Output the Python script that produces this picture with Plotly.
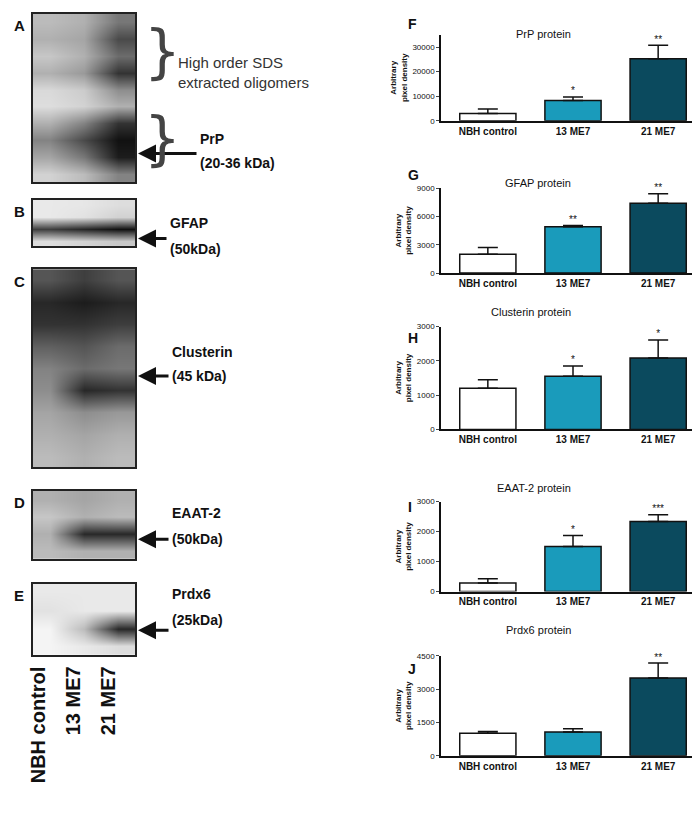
import plotly.graph_objects as go

W, H = 700, 825

groups = ["NBH control", "13 ME7", "21 ME7"]
bar_colors = ["#ffffff", "#1a9bbb", "#0b4a5e"]

# bar panels: means, upper SEM, significance stars
prp_mean = [3000, 8300, 25200]
prp_err = [1800, 1400, 5500]
prp_stars = ["", "*", "**"]
gfap_mean = [2000, 4900, 7400]
gfap_err = [700, 150, 1000]
gfap_stars = ["", "**", "**"]
clu_mean = [1200, 1550, 2080]
clu_err = [250, 300, 530]
clu_stars = ["", "*", "*"]
eaat_mean = [290, 1500, 2340]
eaat_err = [140, 370, 220]
eaat_stars = ["", "*", "***"]
prdx_mean = [1020, 1070, 3500]
prdx_err = [80, 150, 680]
prdx_stars = ["", "", "**"]

# blot band intensities (rows top->bottom, lanes NBH / 13 / 21)
blot_a = [[0.25, 0.3, 0.55], [0.3, 0.35, 0.75], [0.2, 0.3, 0.6], [0.3, 0.4, 0.85],
          [0.12, 0.18, 0.45], [0.1, 0.15, 0.3], [0.3, 0.5, 0.85], [0.5, 0.75, 1.0],
          [0.35, 0.55, 0.95], [0.15, 0.25, 0.5]]
blot_b = [[0.05, 0.06, 0.1], [0.05, 0.08, 0.15], [0.8, 0.9, 1.0], [0.1, 0.15, 0.2]]
blot_c = [[0.7, 0.8, 0.7], [0.9, 0.95, 0.9], [0.85, 0.85, 0.8], [0.65, 0.7, 0.6],
          [0.5, 0.6, 0.55], [0.45, 0.9, 0.85], [0.35, 0.45, 0.4], [0.3, 0.35, 0.3],
          [0.25, 0.3, 0.25]]
blot_d = [[0.3, 0.35, 0.3], [0.2, 0.3, 0.25], [0.3, 0.9, 0.9], [0.25, 0.3, 0.3]]
blot_e = [[0.05, 0.05, 0.05], [0.08, 0.05, 0.05], [0.0, 0.25, 0.9], [0.0, 0.05, 0.1]]

fig = go.Figure()


def px_x(x):
    return x / W


def px_y(y):
    return 1 - y / H


blots = [  # data, top, bottom, letter
    (blot_a, 2, 172, "A"),
    (blot_b, 190, 237, "B"),
    (blot_c, 260, 460, "C"),
    (blot_d, 484, 553, "D"),
    (blot_e, 578, 650, "E"),
]
n = 1
for z, top, bot, letter in blots:
    xa, ya = "x%d" % n, "y%d" % n
    fig.add_trace(go.Heatmap(z=z[::-1], x=[0, 1, 2], y=list(range(len(z))),
                             colorscale=[[0, "#f4f4f4"], [1, "#111111"]], zmin=0, zmax=1,
                             zsmooth="best", showscale=False, xaxis=xa, yaxis=ya))
    ax = dict(domain=[px_x(25), px_x(127)], showticklabels=False, ticks="", showgrid=False,
              zeroline=False, showline=True, mirror=True, linecolor="#222", linewidth=2,
              range=[-0.5, 2.5], anchor=ya)
    ay = dict(domain=[px_y(bot), px_y(top)], showticklabels=False, ticks="", showgrid=False,
              zeroline=False, showline=True, mirror=True, linecolor="#222", linewidth=2,
              range=[-0.5, len(z) - 0.5], anchor=xa)
    fig.update_layout(**{"xaxis%d" % n: ax, "yaxis%d" % n: ay})
    fig.add_annotation(x=px_x(4), y=px_y(top + 12), xref="paper", yref="paper", text="<b>%s</b>" % letter,
                       showarrow=False, xanchor="left", yanchor="middle", font=dict(size=15))
    n += 1

bars = [  # title, mean, err, stars, axis top, ticks, plot top, plot bottom, title y, letter, letter y
    ("PrP protein", prp_mean, prp_err, prp_stars, 35000, [0, 10000, 20000, 30000], 23, 110, 14, "F", 12),
    ("GFAP protein", gfap_mean, gfap_err, gfap_stars, 9000, [0, 3000, 6000, 9000], 178, 264, 165, "G", 165),
    ("Clusterin protein", clu_mean, clu_err, clu_stars, 3000, [0, 1000, 2000, 3000], 318, 422, 303, "H", 330),
    ("EAAT-2 protein", eaat_mean, eaat_err, eaat_stars, 3000, [0, 1000, 2000, 3000], 495, 586, 481, "I", 500),
    ("Prdx6 protein", prdx_mean, prdx_err, prdx_stars, 4500, [0, 1500, 3000, 4500], 651, 752, 633, "J", 664),
]
for title, mean, err, stars, top, tv, ytop, ybot, ytitle, letter, ylet in bars:
    xa, ya = "x%d" % n, "y%d" % n
    fig.add_trace(go.Bar(x=[0, 1, 2], y=mean, width=0.66,
                         marker=dict(color=bar_colors, line=dict(color="#111", width=1.5)),
                         error_y=dict(type="data", symmetric=False, array=err, arrayminus=[0, 0, 0],
                                      color="#111", thickness=1.5, width=10),
                         xaxis=xa, yaxis=ya, showlegend=False))
    fig.add_trace(go.Scatter(x=[0, 1, 2], y=[m + e for m, e in zip(mean, err)], text=stars,
                             mode="text", textposition="top center", textfont=dict(size=10, color="#111"),
                             cliponaxis=False, xaxis=xa, yaxis=ya, showlegend=False))
    fig.update_layout(**{
        "xaxis%d" % n: dict(domain=[px_x(433), px_x(697)], range=[-0.55, 2.55], tickvals=[0, 1, 2],
                            ticktext=["<b>%s</b>" % g for g in groups], showline=True, linecolor="#111",
                            linewidth=1.5, ticks="", showgrid=False, zeroline=False, anchor=ya,
                            tickfont=dict(size=10, color="#111")),
        "yaxis%d" % n: dict(domain=[px_y(ybot), px_y(ytop)], range=[0, top], tickvals=tv, tickformat="d",
                            showline=True, linecolor="#111", linewidth=1.5, ticks="outside", ticklen=3,
                            showgrid=False, zeroline=False, anchor=xa, tickfont=dict(size=8, color="#111"),
                            title=dict(text="<b>Arbitrary<br>pixel density</b>", font=dict(size=8), standoff=4)),
    })
    fig.add_annotation(x=px_x(565), y=px_y(ytitle), xref="paper", yref="paper", text=title,
                       showarrow=False, font=dict(size=11, color="#111"))
    fig.add_annotation(x=px_x(398), y=px_y(ylet), xref="paper", yref="paper", text="<b>%s</b>" % letter,
                       showarrow=False, xanchor="left", yanchor="middle", font=dict(size=14))
    n += 1

# blot labels and arrows
labels = [
    ("High order SDS<br>extracted oligomers", 168, 40, False, "#333"),
    ("<b>PrP</b>", 190, 118, False, "#111"),
    ("<b>(20-36 kDa)</b>", 190, 143, True, "#111"),
    ("<b>GFAP</b>", 160, 203, False, "#111"),
    ("<b>(50kDa)</b>", 160, 229, True, "#111"),
    ("<b>Clusterin</b>", 162, 344, False, "#111"),
    ("<b>(45 kDa)</b>", 162, 368, True, "#111"),
    ("<b>EAAT-2</b>", 162, 507, False, "#111"),
    ("<b>(50kDa)</b>", 162, 533, True, "#111"),
    ("<b>Prdx6</b>", 162, 599, False, "#111"),
    ("<b>(25kDa)</b>", 162, 625, True, "#111"),
]
for text, x, y, arrow, col in labels:
    fig.add_annotation(x=px_x(x), y=px_y(y), xref="paper", yref="paper", text=text, showarrow=False,
                       xanchor="left", align="left", font=dict(size=15 if "oligomers" in text else 14, color=col))
    if arrow:
        fig.add_annotation(x=px_x(130), y=px_y(y), ax=x - 130, ay=0, xref="paper", yref="paper",
                           text="", showarrow=True, arrowhead=2,
                           arrowsize=1.2, arrowwidth=3, arrowcolor="#111")

for y in [40, 128]:
    fig.add_annotation(x=px_x(134), y=px_y(y), xref="paper", yref="paper", text="}", showarrow=False,
                       xanchor="left", yanchor="middle", font=dict(size=58, color="#444", family="DejaVu Sans"))

for i, g in enumerate(groups):
    fig.add_annotation(x=px_x(30 + 35 * i), y=px_y(660), xref="paper", yref="paper", text="<b>%s</b>" % g,
                       textangle=-90, showarrow=False, xanchor="center", yanchor="top",
                       font=dict(size=20, color="#111"))

fig.update_layout(width=W, height=H, margin=dict(l=0, r=0, t=0, b=0), plot_bgcolor="white",
                  paper_bgcolor="white", font=dict(family="Liberation Sans, Arial", color="#111"),
                  showlegend=False)
fig.write_html("out.html")
